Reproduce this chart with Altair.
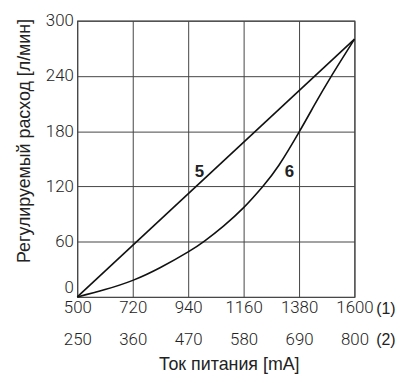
import altair as alt
import pandas as pd

# Line 5 (straight) and line 6 (curve)
x5 = [500, 1600]
y5 = [0, 280]
x6 = [500, 610, 720, 830, 940, 1006, 1080, 1160, 1236, 1300, 1380, 1440, 1504, 1600]
y6 = [0, 8, 18, 32, 49, 61, 77, 97, 120, 143, 179, 208, 238, 280]

x_ticks = [500, 720, 940, 1160, 1380, 1600]
y_ticks = [0, 60, 120, 180, 240, 300]

label_names = ["5", "6"]
label_x = [985, 1342]
label_y = [136, 136]

rows_x = [1600, 1600]
rows_text = ["(1)", "(2)"]

df = pd.concat([
    pd.DataFrame({"x": x5, "y": y5, "s": "5"}),
    pd.DataFrame({"x": x6, "y": y6, "s": "6"}),
])
labels = pd.DataFrame({"x": label_x, "y": label_y, "t": label_names})

tick_font = "Roboto"
title_font = "Arial"

xscale = alt.Scale(domain=[500, 1600], nice=False, zero=False)
yscale = alt.Scale(domain=[0, 300], nice=False)

xaxis = alt.Axis(
    values=x_ticks, format="d",
    title="Ток питания [mA]",
    titleFont=title_font, titleFontSize=18, titleFontWeight="normal",
    titleColor="#222", titlePadding=8, titleX=153,
    labelExpr="[datum.label, '' + (datum.value / 2)]",
    labelFont=tick_font, labelFontSize=17, labelFontWeight=300,
    labelColor="#222", labelLineHeight=32, labelPadding=3,
    ticks=False, domain=False, grid=True, gridColor="#444", gridWidth=1,
    labelOverlap=False, labelFlush=False,
)
yaxis = alt.Axis(
    values=y_ticks, format="d",
    title="Регулируемый расход [л/мин]",
    titleFont=title_font, titleFontSize=18, titleFontWeight="normal",
    titleColor="#222", titlePadding=12, titleY=121,
    labelFont=tick_font, labelFontSize=17, labelFontWeight=300,
    labelColor="#222", labelPadding=4,
    labelBaseline={"condition": {"test": "datum.value == 0", "value": "bottom"}, "value": "middle"},
    ticks=False, domain=False, grid=True, gridColor="#444", gridWidth=1,
)

lines = alt.Chart(df).mark_line(color="#111", strokeWidth=1.6, interpolate="natural").encode(
    x=alt.X("x:Q", scale=xscale, axis=xaxis),
    y=alt.Y("y:Q", scale=yscale, axis=yaxis),
    detail="s:N",
)

text = alt.Chart(labels).mark_text(
    font=title_font, fontSize=17, fontWeight="bold", color="#222"
).encode(
    x=alt.X("x:Q", scale=xscale),
    y=alt.Y("y:Q", scale=yscale),
    text="t:N",
)

row_df = pd.DataFrame({"x": rows_x, "t": rows_text})
row1 = alt.Chart(row_df.iloc[[0]]).mark_text(
    font=title_font, fontSize=16, color="#222", align="left", dx=22, dy=12, baseline="middle"
).encode(x=alt.X("x:Q", scale=xscale), y=alt.value(279), text="t:N")
row2 = alt.Chart(row_df.iloc[[1]]).mark_text(
    font=title_font, fontSize=16, color="#222", align="left", dx=22, dy=44, baseline="middle"
).encode(x=alt.X("x:Q", scale=xscale), y=alt.value(279), text="t:N")

chart = alt.layer(lines, text, row1, row2).properties(
    width=280, height=279,
    autosize=alt.AutoSizeParams(type="none"),
    padding={"left": 70, "top": 11, "right": 50, "bottom": 80},
).configure_view(stroke="#555", strokeWidth=1.2)

chart.save("out.html", embed_options={"renderer": "svg", "actions": False})
